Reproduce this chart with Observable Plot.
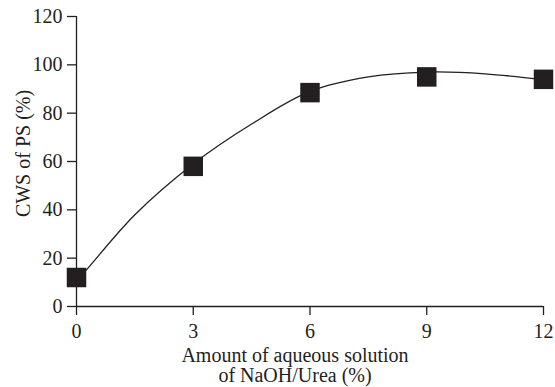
<!DOCTYPE html>
<html>
<head>
<meta charset="utf-8">
<script src="https://cdn.jsdelivr.net/npm/d3@7"></script>
<script src="https://cdn.jsdelivr.net/npm/@observablehq/plot@0.6"></script>
<style>
  html, body { margin: 0; padding: 0; background: #fff; }
  #chart svg { display: block; }
</style>
</head>
<body>
<div id="chart"></div>
<script>
// Measured data points (amount of NaOH/Urea %, CWS of PS %)
const amount = [0, 3, 6, 9, 12];
const cws = [12, 58, 88.5, 95, 94];

// Smooth fitted curve
const fitAmount = [0, 0.3, 1.5, 3, 4.5, 6, 7.5, 9, 10.5, 12];
const fitCws = [10.5, 16, 38, 59, 75.5, 89, 95, 97, 96.3, 93.8];

// Tick labels
const xTicks = [0, 3, 6, 9, 12];
const yTicks = [0, 20, 40, 60, 80, 100, 120];

const xTitleLines = ["Amount of aqueous solution", "of NaOH/Urea (%)"];
const yTitle = "CWS of PS (%)";

const points = amount.map((a, i) => ({a, v: cws[i]}));
const fit = fitAmount.map((a, i) => ({a, v: fitCws[i]}));

const ink = "#231f20";
const font = "'Liberation Serif', 'Times New Roman', serif";
const fs = 20;

const chart = Plot.plot({
  width: 555,
  height: 387,
  marginLeft: 76,
  marginRight: 12,
  marginTop: 16,
  marginBottom: 81,
  style: {fontFamily: font, fontSize: fs + "px", color: ink, background: "#fff"},
  x: {domain: [0, 12]},
  y: {domain: [0, 120]},
  marks: [
    Plot.ruleX([0], {stroke: ink, strokeWidth: 1.3}),
    Plot.ruleY([0], {stroke: ink, strokeWidth: 1.3}),
    Plot.axisX({ticks: xTicks, tickSize: 9, tickPadding: 8, tickFormat: d => String(d), label: null, stroke: ink, fill: ink, strokeWidth: 1.3, fontSize: fs, fontFamily: font}),
    Plot.axisY({ticks: yTicks, tickSize: 9, tickPadding: 5, tickFormat: d => String(d), label: null, stroke: ink, fill: ink, strokeWidth: 1.3, fontSize: fs, fontFamily: font}),
    Plot.line(fit, {x: "a", y: "v", curve: "catmull-rom", stroke: ink, strokeWidth: 1.3}),
    Plot.dot(points, {x: "a", y: "v", symbol: "square", r: 11, fill: ink, stroke: "none"}),
    Plot.text([xTitleLines.join("\n")], {frameAnchor: "bottom", textAnchor: "middle", lineHeight: 1.0, dx: -15, dy: 75, fill: ink, fontSize: fs, fontFamily: font}),
    Plot.text([yTitle], {frameAnchor: "left", textAnchor: "middle", rotate: -90, dx: -53, dy: -8, fill: ink, fontSize: fs, fontFamily: font})
  ]
});
document.getElementById("chart").appendChild(chart);
</script>
</body>
</html>
